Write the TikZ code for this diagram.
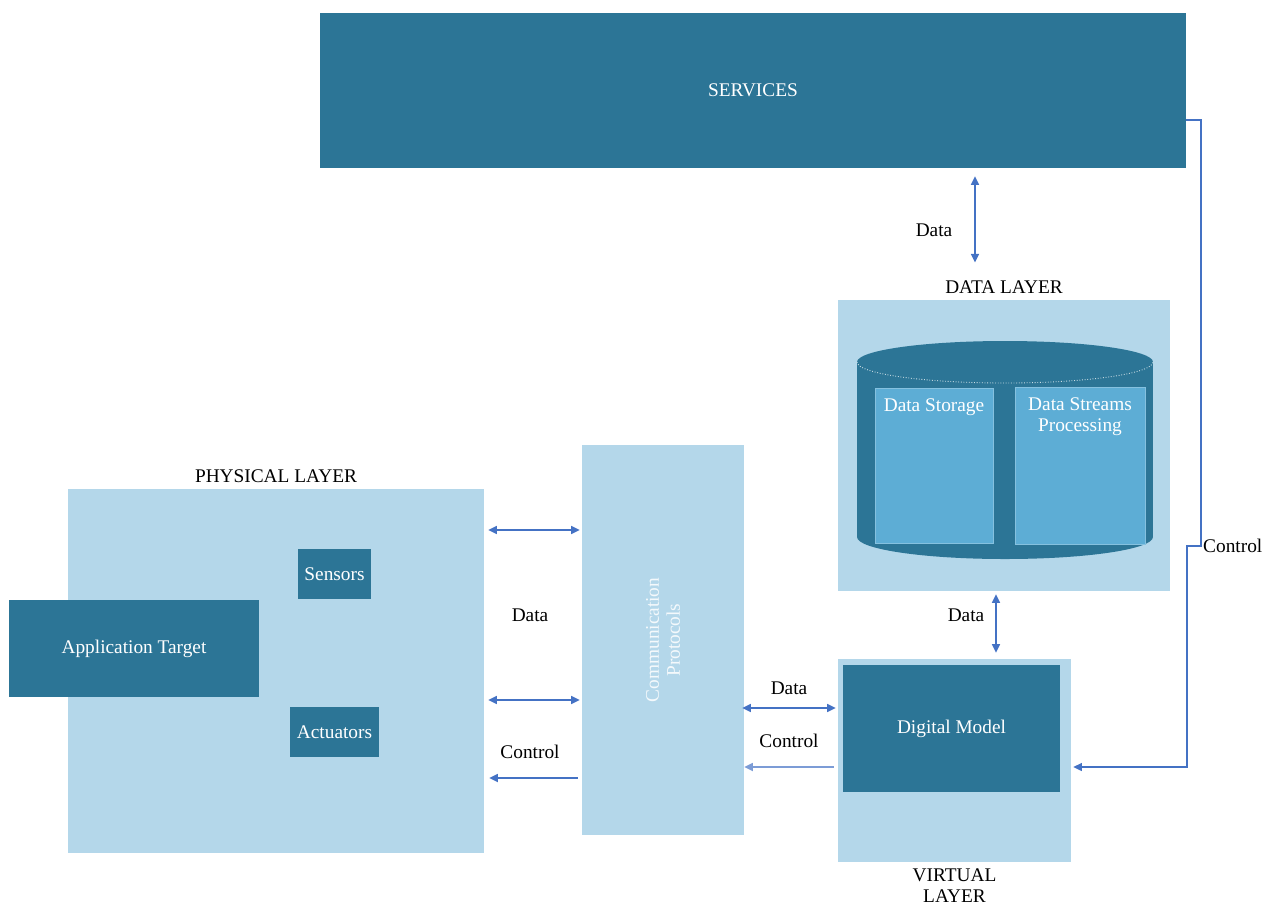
\documentclass[tikz,border=0pt]{standalone}
\usepackage{fontspec}
\setmainfont{Liberation Serif}
\usetikzlibrary{arrows.meta}
\definecolor{darkteal}{HTML}{2C7596}
\definecolor{paleblue}{HTML}{B4D7EA}
\definecolor{midblue}{HTML}{5DADD5}
\definecolor{linkblue}{HTML}{4472C4}
\tikzset{
  layerbox/.style={fill=paleblue, minimum width=#1, inner sep=0pt},
  darkbox/.style={fill=darkteal, text=white, inner sep=0pt},
  storebox/.style={fill=midblue, draw=white!25!midblue, line width=0.3pt, inner sep=0pt},
  heading/.style={font=\fontsize{11}{12}\selectfont, align=center},
  link/.style={draw=linkblue, line width=0.9pt, >={Triangle[length=1.7mm,width=1.6mm]}},
  txt/.style={font=\fontsize{11}{12}\selectfont},
}
\begin{document}
\begin{tikzpicture}[x=0.02cm, y=-0.02cm]
\useasboundingbox (0,0) rectangle (1277,904);
% top
\node[darkbox, minimum width=17.32cm, minimum height=3.1cm, txt] (serv) at (753,90.5) {SERVICES};
% data layer
\node[layerbox=6.64cm, minimum height=5.82cm] (dlayer) at (1004,445.5) {};
\node[heading, anchor=south] (dtitle) at (dlayer.north) {DATA LAYER};
\fill[darkteal] (857,362) rectangle (1153,537);
\fill[darkteal] (1005,537) ellipse [x radius=2.96cm, y radius=0.44cm];
\fill[darkteal] (1005,362) ellipse [x radius=2.96cm, y radius=0.42cm];
\draw[white!75!darkteal, densely dotted, line width=0.5pt] (857,362) arc[start angle=180, end angle=360, x radius=2.96cm, y radius=0.42cm];
\node[storebox, minimum width=2.36cm, minimum height=3.1cm,
  label={[anchor=north, text=white, txt, yshift=-0.1cm]north:Data Storage}] (store) at (934,465.5) {};
\node[storebox, minimum width=2.6cm, minimum height=3.14cm,
  label={[anchor=north, text=white, txt, align=center, yshift=-0.1cm]north:Data Streams\\Processing}] (stream) at (1080,465.5) {};
% virtual layer
\node[layerbox=4.66cm, minimum height=4.06cm] (vlayer) at (954.5,760.5) {};
\node[heading, anchor=north] (vtitle) at (vlayer.south) {VIRTUAL\\LAYER};
\node[darkbox, minimum width=4.34cm, minimum height=2.54cm, txt] (model) at (951.5,728.5) {Digital Model};
% physical layer
\node[layerbox=8.32cm, minimum height=7.28cm] (plater) at (276,671) {};
\node[heading, anchor=south] (ptitle) at (plater.north) {PHYSICAL LAYER};
\node[darkbox, minimum width=5cm, minimum height=1.94cm, txt] (target) at (134,648.5) {Application Target};
\node[darkbox, minimum width=1.46cm, minimum height=1cm, txt] (sens) at (334.5,574) {Sensors};
\node[darkbox, minimum width=1.78cm, minimum height=1cm, txt] (act) at (334.5,732) {Actuators};
% communication
\node[layerbox=3.24cm, minimum height=7.8cm] (comm) at (663,640) {};
\node[txt, text=white!85!paleblue, rotate=90, align=center] (commtxt) at (comm.center) {Communication\\Protocols};
% links
\draw[link, <->] ([yshift=-0.16cm]serv.south -| 975,0) -- ([yshift=0.24cm]dtitle.north -| 975,0);
\node[txt] (d1) at (934,230) {Data};
\draw[link, <->] ([yshift=-0.06cm]dlayer.south -| 996,0) -- ([yshift=0.12cm]vlayer.north -| 996,0);
\node[txt] (d2) at (966,615) {Data};
\draw[link, <->] ([xshift=0.08cm]plater.east |- 0,530) -- ([xshift=-0.04cm]comm.west |- 0,530);
\draw[link, <->] ([xshift=0.08cm]plater.east |- 0,700) -- ([xshift=-0.04cm]comm.west |- 0,700);
\node[txt] (d3) at (530,615) {Data};
\draw[link, ->] ([xshift=-0.08cm]comm.west |- 0,778) -- ([xshift=0.1cm]plater.east |- 0,778);
\node[txt] (c1) at (530,752) {Control};
\draw[link, <->] ([xshift=-0.04cm]comm.east |- 0,708) -- ([xshift=-0.04cm]vlayer.west |- 0,708);
\node[txt] (d4) at (789,688) {Data};
\draw[link, ->, draw=linkblue!70] ([xshift=-0.08cm]vlayer.west |- 0,767) -- (comm.east |- 0,767);
\node[txt] (c2) at (789,741) {Control};
\coordinate (jogtop) at (1201,546);
\coordinate (jogbot) at (1187,546);
\draw[link, line width=0.6pt, ->] (serv.east |- 0,120) -| (jogtop) -- (jogbot) |- ([xshift=0.04cm]vlayer.east |- 0,767);
\node[txt, anchor=west] (c3) at (1197,546) {Control};
\end{tikzpicture}
\end{document}
